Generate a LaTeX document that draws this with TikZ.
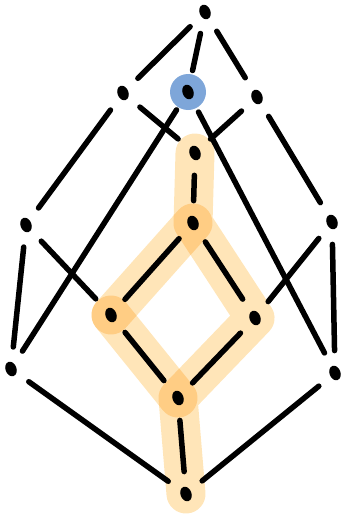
\documentclass[tikz,border=0pt]{standalone}
\usetikzlibrary{shapes.geometric,backgrounds}
\definecolor{hlorange}{RGB}{255,229,184}
\definecolor{hlblue}{RGB}{126,166,217}
\tikzset{
  dot/.style={ellipse,fill=black,inner sep=0pt,minimum width=11pt,minimum height=15pt,rotate=20},
  link/.style={line width=5.5pt,line cap=round,shorten <=15pt,shorten >=15pt},
  glow/.style={line width=39pt,line cap=round,line join=round,draw=hlorange,blend mode=multiply},
}
\begin{document}
\begin{tikzpicture}[x=1pt,y=-1pt]
\useasboundingbox (0,0) rectangle (344,525);

\node[dot] (top) at (205,12) {};
\node[dot] (ul) at (123,93) {};
\node[dot] (mid) at (188,92) {};
\node[dot] (ur) at (257,97) {};
\node[dot] (c1) at (195,153) {};
\node[dot] (l3) at (26,225) {};
\node[dot] (c2) at (193,223) {};
\node[dot] (r3) at (332,222) {};
\node[dot] (l4) at (111,315) {};
\node[dot] (r4) at (255,318) {};
\node[dot] (l5) at (11,369) {};
\node[dot] (c5) at (178,398) {};
\node[dot] (r5) at (335,373) {};
\node[dot] (bot) at (186,494) {};

\begin{scope}[on background layer]
\fill[hlblue] (mid) circle (18pt);
\draw[glow] (c1.center) -- (c2.center) -- (r4.center) -- (c5.center) -- (bot.center);
\draw[glow] (c2.center) -- (l4.center);
\draw[glow] (l4.center) -- (c5.center);
\end{scope}

\draw[link] (top) -- (ul);
\draw[link] (top) -- (mid);
\draw[link] (top) -- (ur);
\draw[link] (ul) -- (l3);
\draw[link] (ul) -- (c1);
\draw[link] (mid) -- (l5);
\draw[link] (mid) -- (r5);
\draw[link] (ur) -- (c1);
\draw[link] (ur) -- (r3);
\draw[link] (c1) -- (c2);
\draw[link] (l3) -- (l4);
\draw[link] (l3) -- (l5);
\draw[link] (c2) -- (l4);
\draw[link] (c2) -- (r4);
\draw[link] (r3) -- (r4);
\draw[link] (r3) -- (r5);
\draw[link] (l4) -- (c5);
\draw[link] (r4) -- (c5);
\draw[link] (l5) -- (bot);
\draw[link] (r5) -- (bot);
\draw[link] (c5) -- (bot);
\end{tikzpicture}
\end{document}
